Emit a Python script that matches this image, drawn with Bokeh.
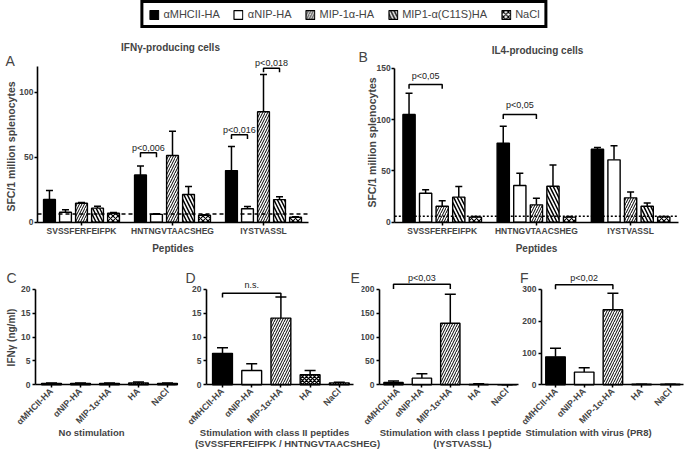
import math
import numpy as np
from bokeh.plotting import figure
from bokeh.models import (ColumnDataSource, Whisker, TeeHead, Label, FixedTicker,
                          Legend, LegendItem, Range1d)
from bokeh.layouts import column, row
from bokeh.embed import file_html
from bokeh.resources import INLINE

FONT = "Liberation Sans"

# ---------------- data ----------------
peptides = ["SVSSFERFEIFPK", "HNTNGVTAACSHEG", "IYSTVASSL"]
vaccines = ["αMHCII-HA", "αNIP-HA", "MIP-1α-HA", "MIP1-α(C11S)HA", "NaCl"]

# Panel A: IFNγ-producing cells (SFC / 1 million splenocytes), mean and SEM per peptide
ifng_mhcii = [17.5, 36.4, 39.7]
ifng_mhcii_sem = [6.9, 6.9, 18.5]
ifng_nip = [7.7, 6.0, 10.3]
ifng_nip_sem = [1.8, 0.5, 1.7]
ifng_mip = [14.6, 51.3, 85.0]
ifng_mip_sem = [0.6, 18.7, 28.6]
ifng_c11s = [10.8, 21.3, 17.4]
ifng_c11s_sem = [1.5, 6.1, 2.1]
ifng_nacl = [6.9, 5.4, 3.8]
ifng_nacl_sem = [0.5, 0.4, 0.4]
ifng_background = 6.3

# Panel B: IL4-producing cells
il4_mhcii = [104.9, 77.0, 71.0]
il4_mhcii_sem = [20.7, 16.5, 1.7]
il4_nip = [28.2, 35.7, 60.7]
il4_nip_sem = [3.3, 12.0, 13.7]
il4_mip = [15.6, 16.9, 23.7]
il4_mip_sem = [5.2, 6.5, 5.8]
il4_c11s = [24.4, 35.0, 15.6]
il4_c11s_sem = [10.3, 20.8, 3.2]
il4_nacl = [4.9, 4.9, 5.2]
il4_nacl_sem = [0.6, 0.6, 0.3]
il4_background = 5.8

# significance brackets: (peptide index, first bar, second bar, bracket top, leg end, text)
ifng_brackets = [(1, 0, 1, 53.4, 50.0, "p<0,006"),
                 (2, 0, 1, 67.2, 64.0, "p<0,016"),
                 (2, 2, 3, 118.5, 115.4, "p<0,018")]
il4_brackets = [(0, 0, 2, 134.0, 130.0, "p<0,05"),
                (1, 0, 2, 104.9, 100.6, "p<0,05")]

# Panels C-F: IFNγ (ng/ml)
groups = ["αMHCII-HA", "αNIP-HA", "MIP-1α-HA", "HA", "NaCl"]
nostim_mean = [0.3, 0.3, 0.3, 0.4, 0.3]
nostim_sem = [0.1, 0.1, 0.1, 0.2, 0.1]
class2_mean = [6.6, 3.0, 14.0, 2.1, 0.4]
class2_sem = [1.2, 1.4, 4.4, 0.9, 0.15]
class1_mean = [5.0, 14.0, 129.0, 0.5, 0.0]
class1_sem = [3.0, 9.0, 61.0, 1.5, 0.0]
virus_mean = [88.0, 40.0, 236.0, 1.5, 1.5]
virus_sem = [27.0, 14.0, 52.0, 0.5, 0.5]

# (first bar, second bar, bracket top, leg end, text)
class2_bracket = (0, 2, 19.2, 18.3, "n.s.")
class1_bracket = (0, 2, 211.0, 201.0, "p<0,03")
virus_bracket = (0, 2, 315.0, 301.0, "p<0,02")

# ---------------- styles ----------------
BAR_STYLE = {
    "αMHCII-HA": dict(fill_color="black"),
    "αNIP-HA": dict(fill_color="white"),
    "MIP-1α-HA": dict(fill_color="white", hatch_pattern="/", hatch_scale=5,
                      hatch_weight=1, hatch_color="black"),
    "MIP1-α(C11S)HA": dict(fill_color="white", hatch_pattern="\\", hatch_scale=7,
                           hatch_weight=1.5, hatch_color="black"),
    "NaCl": dict(fill_color="white", hatch_pattern="x", hatch_scale=5,
                 hatch_weight=1.2, hatch_color="black"),
    "HA": dict(fill_color="white", hatch_pattern="x", hatch_scale=4,
               hatch_weight=1.5, hatch_color="black"),
}


class Panel:
    """A figure whose frame fills its canvas; screen<->data helpers for layout."""

    def __init__(self, cx0, cx1, cy0, cy1, ox, kx, oy, ky):
        self.ox, self.kx, self.oy, self.ky = ox, kx, oy, ky
        self.p = figure(width=cx1 - cx0, height=cy1 - cy0,
                        x_range=Range1d((cx0 - ox) / kx, (cx1 - ox) / kx),
                        y_range=Range1d((oy - cy1) / ky, (oy - cy0) / ky),
                        output_backend="svg", toolbar_location=None, min_border=0)
        self.p.outline_line_color = None
        self.p.grid.visible = False

    def sx(self, s):
        return (s - self.ox) / self.kx

    def sy(self, s):
        return (self.oy - s) / self.ky

    def text(self, sx, sy, text, size, bold=False, align="center", angle=0.0):
        self.p.add_layout(Label(x=self.sx(sx), y=self.sy(sy), text=text, text_font=FONT,
                                text_font_size=size,
                                text_font_style="bold" if bold else "normal",
                                text_align=align, text_baseline="middle", angle=angle))


def style_axes(p, x_lo, x_hi, y_bounds, tick_size="8.5px"):
    p.yaxis.fixed_location = x_lo
    p.xaxis.fixed_location = 0
    p.xaxis.bounds = (x_lo, x_hi)
    p.yaxis.bounds = y_bounds
    for ax in p.axis:
        ax.axis_line_width = 1.6
        ax.major_tick_line_width = 1.5
        ax.major_tick_out = 3
        ax.major_tick_in = 0
        ax.minor_tick_line_color = None
        ax.major_label_text_font = FONT
        ax.major_label_text_font_style = "bold"
        ax.major_label_text_font_size = tick_size
        ax.major_label_standoff = 2
        ax.axis_label_text_font = FONT
        ax.axis_label_text_font_style = "bold"
        ax.axis_label_text_font_size = "10px"
        ax.axis_label_standoff = 2


def add_bracket(p, x0, x1, top, leg, text, text_offset):
    p.line(x=[x0, x0, x1, x1], y=[leg, top, top, leg], line_color="black", line_width=1.5)
    p.add_layout(Label(x=(x0 + x1) / 2, y=top, text=text, text_font=FONT,
                       text_font_size="9px", text_align="center", text_baseline="bottom",
                       text_color="#222222", y_offset=text_offset))


def bars_with_sem(p, xs, means, sems, width, style, cap):
    means = np.asarray(means, dtype=float)
    src = ColumnDataSource(dict(x=np.asarray(xs, dtype=float), top=means,
                                up=means + np.asarray(sems, dtype=float)))
    p.add_layout(Whisker(base="x", lower="top", upper="up", source=src, dimension="height",
                         line_width=1.5, line_color="black", lower_head=None,
                         upper_head=TeeHead(size=cap, line_width=1.5, line_color="black")))
    return p.vbar(x="x", top="top", width=width, source=src, line_color="black",
                  line_width=1.4, **style)


OFFSETS = np.array([-0.352, -0.176, 0.0, 0.176, 0.352])


def peptide_panel(panel, axis_sx, end_sx, y_bounds, y_ticks, means, sems, background,
                  dash, brackets, text_offset):
    p = panel.p
    gx = np.arange(len(peptides))
    for j, v in enumerate(vaccines):
        bars_with_sem(p, gx + OFFSETS[j], means[j], sems[j], 0.13, BAR_STYLE[v], 7)
    x_lo, x_hi = panel.sx(axis_sx), panel.sx(end_sx)
    p.line(x=[x_lo, x_hi], y=[background, background], line_color="black",
           line_width=1.3, line_dash=dash)
    for g, i, j, top, leg, txt in brackets:
        add_bracket(p, g + OFFSETS[i], g + OFFSETS[j], top, leg, txt, text_offset)
    p.xaxis.ticker = FixedTicker(ticks=list(range(len(peptides))))
    p.xaxis.major_label_overrides = {i: s for i, s in enumerate(peptides)}
    p.xaxis.axis_label = "Peptides"
    p.yaxis.ticker = FixedTicker(ticks=y_ticks)
    style_axes(p, x_lo, x_hi, y_bounds)
    p.xaxis.major_label_standoff = 1
    p.xaxis.axis_label_standoff = 3
    p.yaxis.major_label_standoff = 1
    return p


# ---- legend strip (screen y 0..28) ----
lg = figure(width=688, height=28, x_range=Range1d(0, 1), y_range=Range1d(0, 1),
            output_backend="svg", toolbar_location=None, min_border=0,
            x_axis_location=None, y_axis_location=None)
lg.outline_line_color = None
lg.grid.visible = False
items = []
for v in vaccines:
    r = lg.vbar(x=[np.nan], top=[np.nan], width=0.1, line_color="black", line_width=1.2,
                **BAR_STYLE[v])
    items.append(LegendItem(label=v, renderers=[r]))
legend = Legend(items=items, orientation="horizontal", location="center",
                border_line_color="black", border_line_alpha=1.0, border_line_width=3,
                padding=5, spacing=13, label_standoff=4, glyph_width=11, glyph_height=11,
                label_height=12, label_text_font=FONT, label_text_font_size="11px",
                margin=0)
lg.add_layout(legend, "center")

# ---- row 1 : panels A and B (screen y 28..262) ----
A = Panel(0, 356, 28, 262, ox=81, kx=91, oy=221.7, ky=1.3)
peptide_panel(A, 37, 308, (0, 120), [0, 50, 100],
              [ifng_mhcii, ifng_nip, ifng_mip, ifng_c11s, ifng_nacl],
              [ifng_mhcii_sem, ifng_nip_sem, ifng_mip_sem, ifng_c11s_sem, ifng_nacl_sem],
              ifng_background, "4 3", ifng_brackets, 0)
A.text(170, 47, "IFNγ-producing cells", "10px", bold=True)
A.text(5, 60, "A", "14px", align="left")
A.text(10.5, 146, "SFC/1 million splenocytes", "10.5px", bold=True, angle=math.pi / 2)

B = Panel(356, 688, 28, 262, ox=441.7, kx=94.2, oy=221.7, ky=1.027)
peptide_panel(B, 394.3, 678, (0, 150), [0, 50, 100, 150],
              [il4_mhcii, il4_nip, il4_mip, il4_c11s, il4_nacl],
              [il4_mhcii_sem, il4_nip_sem, il4_mip_sem, il4_c11s_sem, il4_nacl_sem],
              il4_background, "2 2", il4_brackets, 4)
B.text(537, 50, "IL4-producing cells", "10px", bold=True)
B.text(358, 56, "B", "14px", align="left")
B.text(371, 142, "SFC/1 million splenocytes", "10.5px", bold=True, angle=math.pi / 2)


# ---- row 2 : panels C-F (screen y 262..426) ----
def stim_panel(panel, axis_sx, end_sx, y_bounds, y_ticks, means, sems, bracket,
               text_offset):
    p = panel.p
    xs = np.arange(len(groups))
    for k, gname in enumerate(groups):
        bars_with_sem(p, [xs[k]], [means[k]], [sems[k]], 0.68, BAR_STYLE[gname], 11)
    if bracket is not None:
        i, j, top, leg, txt = bracket
        add_bracket(p, xs[i], xs[j], top, leg, txt, text_offset)
    p.xaxis.ticker = FixedTicker(ticks=list(range(len(groups))))
    p.xaxis.major_label_overrides = {i: s for i, s in enumerate(groups)}
    p.xaxis.major_label_orientation = math.pi / 4
    p.yaxis.ticker = FixedTicker(ticks=y_ticks)
    style_axes(p, panel.sx(axis_sx), panel.sx(end_sx), y_bounds)
    p.xaxis.major_label_text_font_size = "9px"
    return p


C = Panel(0, 184, 262, 426, ox=51, kx=29, oy=384.3, ky=4.766)
stim_panel(C, 35, 175, (0, 20), [0, 5, 10, 15, 20], nostim_mean, nostim_sem, None, 0)
C.text(6, 277, "C", "14px", align="left")
C.text(10.5, 337, "IFNγ (ng/ml)", "10px", bold=True, angle=math.pi / 2)

D = Panel(184, 361, 262, 426, ox=222, kx=29.2, oy=384.3, ky=4.766)
stim_panel(D, 206, 353, (0, 20), [0, 5, 10, 15, 20], class2_mean, class2_sem,
           class2_bracket, 3)
D.text(185, 277, "D", "14px", align="left")
D.text(350, 277, "E", "14px", align="left")

E = Panel(361, 519, 262, 426, ox=393, kx=28.4, oy=384.3, ky=0.4766)
stim_panel(E, 379, 518, (0, 200), [0, 50, 100, 150, 200], class1_mean, class1_sem,
           class1_bracket, 1.5)

F = Panel(519, 688, 262, 426, ox=555, kx=28.7, oy=384.3, ky=0.3177)
stim_panel(F, 541, 683, (0, 300), [0, 100, 200, 300], virus_mean, virus_sem,
           virus_bracket, 2)
F.text(519.5, 277, "F", "14px", align="left")

# ---- caption strip under C-F (screen y 426..459) ----
cap = Panel(0, 688, 426, 459, ox=0, kx=1, oy=0, ky=-1)
cap.p.axis.visible = False
cap.text(91, 432, "No stimulation", "9.5px", bold=True)
cap.text(274, 432, "Stimulation with class II peptides", "9.5px", bold=True)
cap.text(287, 443.3, "(SVSSFERFEIFPK / HNTNGVTAACSHEG)", "9.5px", bold=True)
cap.text(450, 432, "Stimulation with class I peptide", "9.5px", bold=True)
cap.text(462, 443.3, "(IYSTVASSL)", "9.5px", bold=True)
cap.text(588, 432, "Stimulation with virus (PR8)", "9.5px", bold=True)

layout = column(lg, row(A.p, B.p), row(C.p, D.p, E.p, F.p), cap.p)

with open("out.html", "w") as f:
    f.write(file_html(layout, INLINE))
